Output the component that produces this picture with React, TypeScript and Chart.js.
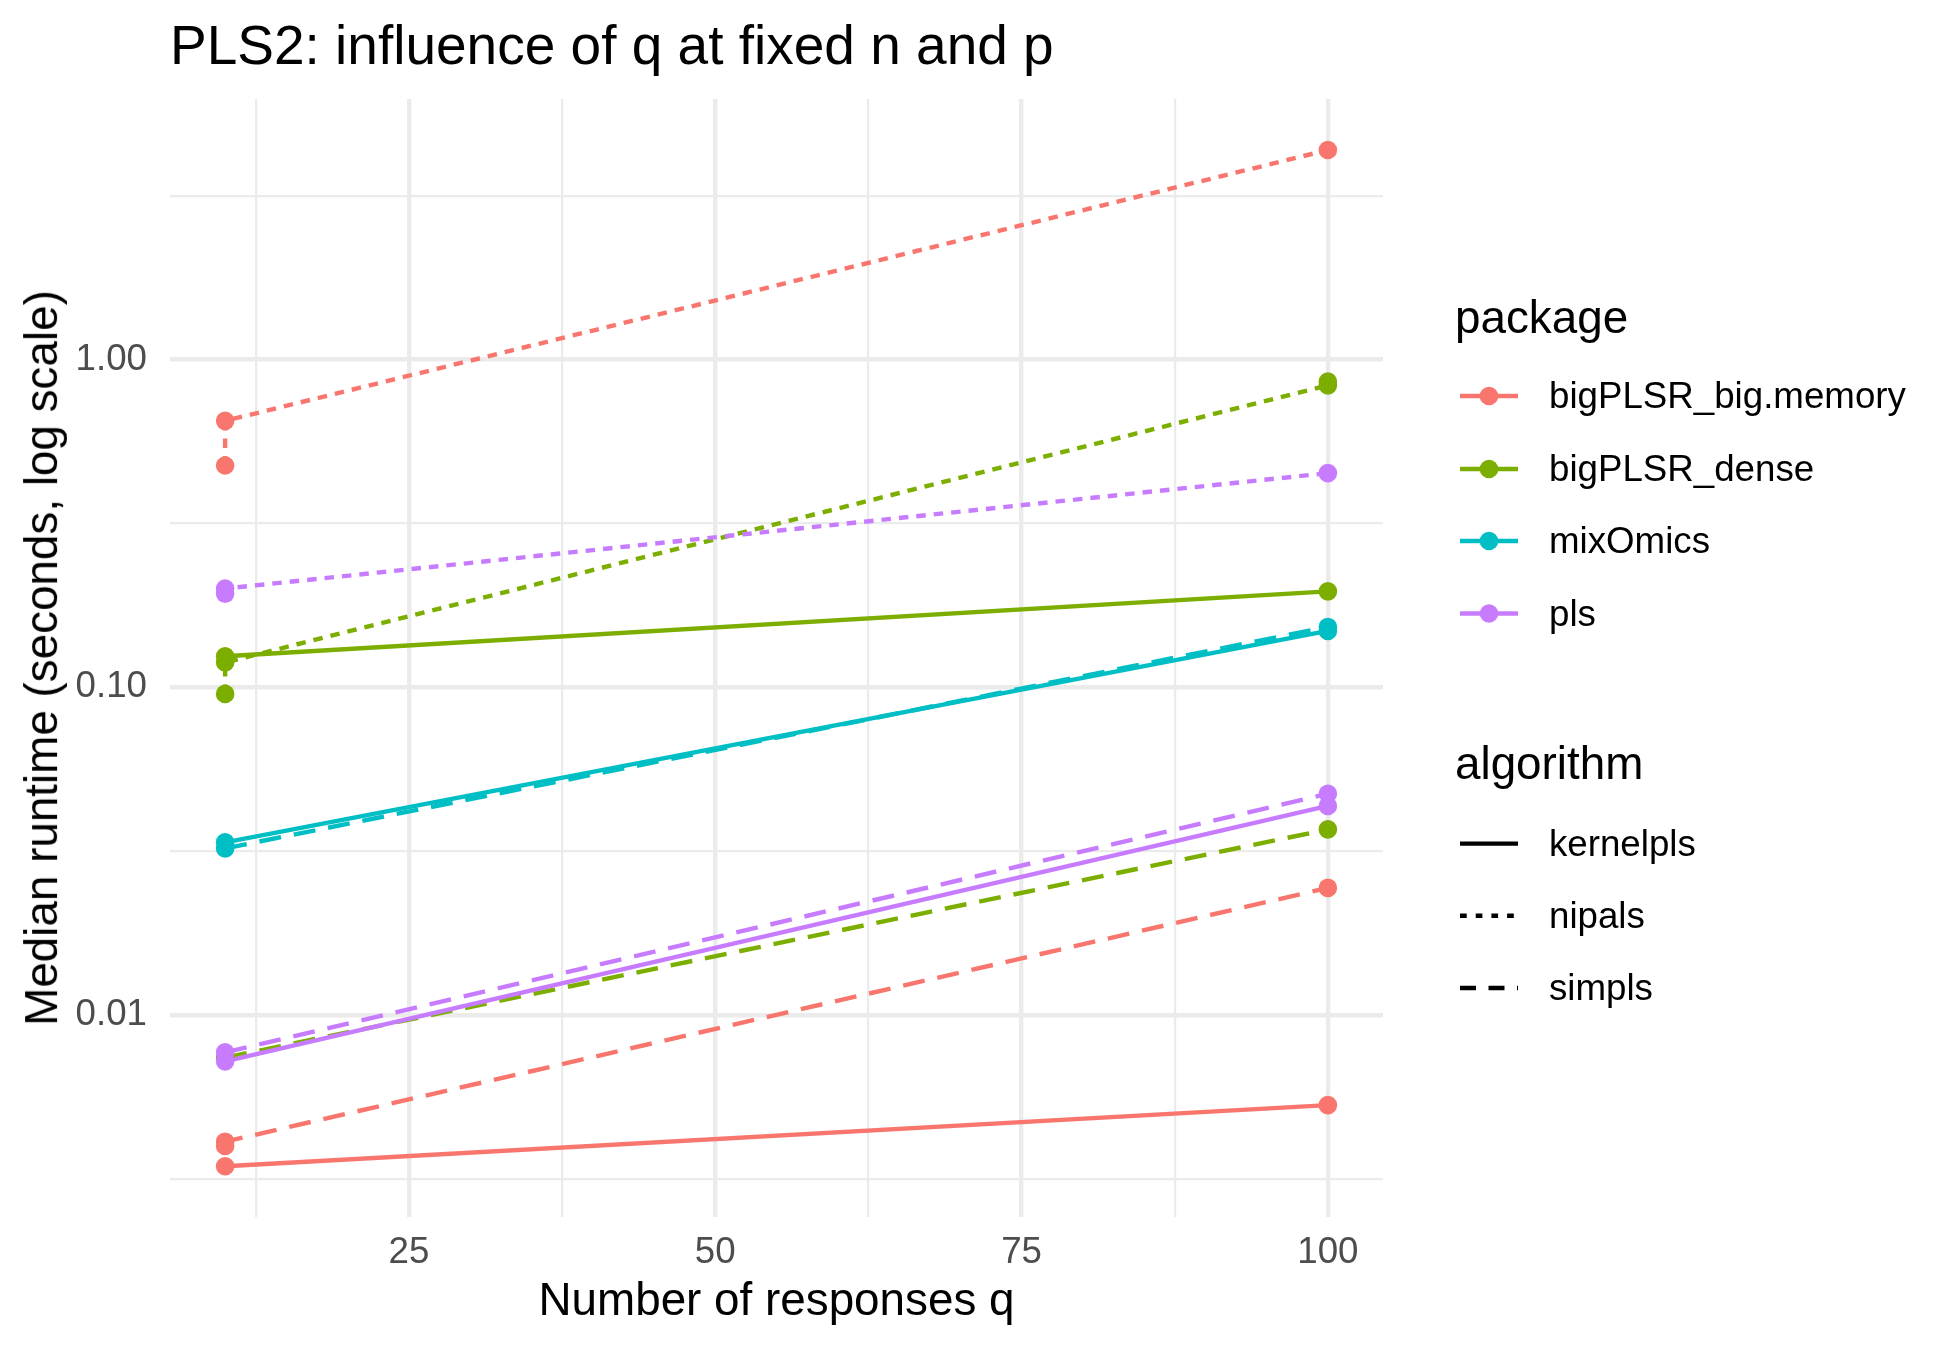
import React, { useEffect, useRef } from "react";
import { Chart, registerables } from "chart.js";

Chart.register(...registerables);

const FONT = "'Liberation Sans', Arial, Helvetica, sans-serif";

const packages = ["bigPLSR_big.memory", "bigPLSR_dense", "mixOmics", "pls"];
const packageColors = ["#F8766D", "#7CAE00", "#00BFC4", "#C77CFF"];
const algorithms = ["kernelpls", "nipals", "simpls"];

// Number of responses q and median runtimes (seconds) per package / algorithm
const bigMemoryKernelQ = [10, 100];
const bigMemoryKernelT = [0.00345, 0.0053];
const bigMemoryNipalsQ = [10, 10, 100];
const bigMemoryNipalsT = [0.475, 0.65, 4.36];
const bigMemorySimplsQ = [10, 10, 100];
const bigMemorySimplsT = [0.00398, 0.0041, 0.0244];

const denseKernelQ = [10, 100];
const denseKernelT = [0.1243, 0.196];
const denseNipalsQ = [10, 10, 100, 100];
const denseNipalsT = [0.0954, 0.119, 0.834, 0.857];
const denseSimplsQ = [10, 100];
const denseSimplsT = [0.0074, 0.0368];

const mixOmicsKernelQ = [10, 100];
const mixOmicsKernelT = [0.0336, 0.1485];
const mixOmicsSimplsQ = [10, 100];
const mixOmicsSimplsT = [0.0322, 0.1527];

const plsKernelQ = [10, 100];
const plsKernelT = [0.00721, 0.0434];
const plsNipalsQ = [10, 10, 100];
const plsNipalsT = [0.193, 0.2, 0.45];
const plsSimplsQ = [10, 100];
const plsSimplsT = [0.00768, 0.0473];

// axis ticks
const xMajorTicks = [25, 50, 75, 100];
const xMinorTicks = [12.5, 37.5, 62.5, 87.5];
const yMajorTicks = [0.01, 0.1, 1];
const yMajorLabels = ["0.01", "0.10", "1.00"];
const yMinorTicks = [0.00316, 0.0316, 0.316, 3.16];

const dashByAlgorithm: Record<string, number[]> = {
  kernelpls: [],
  nipals: [9.5, 8],
  simpls: [22, 13],
};

const series = [
  { pkg: 0, alg: "kernelpls", q: bigMemoryKernelQ, t: bigMemoryKernelT },
  { pkg: 0, alg: "nipals", q: bigMemoryNipalsQ, t: bigMemoryNipalsT },
  { pkg: 0, alg: "simpls", q: bigMemorySimplsQ, t: bigMemorySimplsT },
  { pkg: 1, alg: "kernelpls", q: denseKernelQ, t: denseKernelT },
  { pkg: 1, alg: "nipals", q: denseNipalsQ, t: denseNipalsT },
  { pkg: 1, alg: "simpls", q: denseSimplsQ, t: denseSimplsT },
  { pkg: 2, alg: "kernelpls", q: mixOmicsKernelQ, t: mixOmicsKernelT },
  { pkg: 2, alg: "simpls", q: mixOmicsSimplsQ, t: mixOmicsSimplsT },
  { pkg: 3, alg: "kernelpls", q: plsKernelQ, t: plsKernelT },
  { pkg: 3, alg: "nipals", q: plsNipalsQ, t: plsNipalsT },
  { pkg: 3, alg: "simpls", q: plsSimplsQ, t: plsSimplsT },
];

const near = (a: number, b: number) => Math.abs(Math.log10(a) - Math.log10(b)) < 1e-3;

export default function App() {
  const canvasRef = useRef<HTMLCanvasElement | null>(null);

  useEffect(() => {
    if (!canvasRef.current) return;
    Chart.defaults.font.family = FONT;

    const lineSets: any[] = series.map((s, i) => ({
      label: packages[s.pkg] + " " + s.alg,
      data: s.q.map((q, j) => ({ x: q, y: s.t[j] })),
      borderColor: packageColors[s.pkg],
      backgroundColor: packageColors[s.pkg],
      borderWidth: 4.4,
      borderDash: dashByAlgorithm[s.alg],
      borderCapStyle: "butt",
      pointRadius: 0,
      tension: 0,
      fill: false,
      order: 100 - i,
    }));

    const pointSets: any[] = packages.map((p, k) => ({
      label: p + " points",
      data: series
        .filter((s) => s.pkg === k)
        .flatMap((s) => s.q.map((q, j) => ({ x: q, y: s.t[j] }))),
      showLine: false,
      pointRadius: 9.3,
      pointHoverRadius: 9.3,
      pointBorderWidth: 0,
      pointBackgroundColor: packageColors[k],
      borderColor: packageColors[k],
      backgroundColor: packageColors[k],
      order: 10 - k,
    }));

    const chart = new Chart(canvasRef.current, {
      type: "line",
      data: { datasets: [...lineSets, ...pointSets] },
      options: {
        responsive: false,
        animation: false,
        devicePixelRatio: 1,
        events: [],
        layout: { padding: { left: 0, top: 99, right: 567, bottom: 0 } },
        plugins: {
          legend: { display: false },
          tooltip: { enabled: false },
          title: { display: false },
        },
        scales: {
          x: {
            type: "linear",
            min: 5.5,
            max: 104.5,
            afterBuildTicks: (scale: any) => {
              scale.ticks = [...xMinorTicks, ...xMajorTicks]
                .sort((a, b) => a - b)
                .map((v) => ({ value: v }));
            },
            afterFit: (scale: any) => {
              scale.height = 133;
            },
            border: { display: false },
            grid: {
              color: "#EBEBEB",
              lineWidth: (ctx: any) =>
                ctx.tick && xMajorTicks.includes(ctx.tick.value) ? 4.4 : 2.2,
              drawTicks: false,
            },
            ticks: {
              autoSkip: false,
              maxRotation: 0,
              padding: 14,
              color: "#4D4D4D",
              font: { size: 36.7, family: FONT },
              callback: (v: any) => (xMajorTicks.includes(Number(v)) ? String(v) : ""),
            },
          },
          y: {
            type: "logarithmic",
            min: 0.002415,
            max: 6.24,
            afterBuildTicks: (scale: any) => {
              scale.ticks = [...yMinorTicks, ...yMajorTicks]
                .sort((a, b) => a - b)
                .map((v) => ({ value: v }));
            },
            afterFit: (scale: any) => {
              scale.width = 170;
            },
            border: { display: false },
            grid: {
              color: "#EBEBEB",
              lineWidth: (ctx: any) =>
                ctx.tick && yMajorTicks.some((m) => near(m, ctx.tick.value)) ? 4.4 : 2.2,
              drawTicks: false,
            },
            ticks: {
              autoSkip: false,
              padding: 23,
              color: "#4D4D4D",
              font: { size: 36.7, family: FONT },
              callback: (v: any) => {
                const idx = yMajorTicks.findIndex((m) => near(m, Number(v)));
                return idx >= 0 ? yMajorLabels[idx] : "";
              },
            },
          },
        },
      } as any,
    });
    return () => chart.destroy();
  }, []);

  const legendText: React.CSSProperties = {
    position: "absolute",
    left: 1549,
    fontFamily: FONT,
    fontSize: 36.7,
    lineHeight: 1,
    color: "#000",
    whiteSpace: "nowrap",
  };
  const pkgRows = [396, 469, 541, 613.5];
  const algRows = [843.6, 915.7, 988];
  const algDash = ["", "6.7 9", "16 12.5"];

  return (
    <div
      style={{
        position: "absolute",
        left: 0,
        top: 0,
        width: 1950,
        height: 1350,
        background: "#fff",
        overflow: "hidden",
      }}
    >
      <canvas ref={canvasRef} width={1950} height={1350} style={{ display: "block" }} />
      <div
        style={{
          position: "absolute",
          left: 170,
          top: 18,
          fontFamily: FONT,
          fontSize: 55,
          lineHeight: 1,
          whiteSpace: "nowrap",
          color: "#000",
        }}
      >
        PLS2: influence of q at fixed n and p
      </div>
      <div
        style={{
          position: "absolute",
          left: 776.5,
          top: 1277,
          transform: "translateX(-50%)",
          fontFamily: FONT,
          fontSize: 45.8,
          lineHeight: 1,
          whiteSpace: "nowrap",
          color: "#000",
        }}
      >
        Number of responses q
      </div>
      <div
        style={{
          position: "absolute",
          left: 42,
          top: 658,
          transform: "translate(-50%, -50%) rotate(-90deg)",
          fontFamily: FONT,
          fontSize: 45.8,
          lineHeight: 1,
          whiteSpace: "nowrap",
          color: "#000",
        }}
      >
        Median runtime (seconds, log scale)
      </div>
      <div
        style={{
          position: "absolute",
          left: 1455,
          top: 295,
          fontFamily: FONT,
          fontSize: 45.8,
          lineHeight: 1,
          whiteSpace: "nowrap",
          color: "#000",
        }}
      >
        package
      </div>
      <div
        style={{
          position: "absolute",
          left: 1455,
          top: 741,
          fontFamily: FONT,
          fontSize: 45.8,
          lineHeight: 1,
          whiteSpace: "nowrap",
          color: "#000",
        }}
      >
        algorithm
      </div>
      <svg
        width={1950}
        height={1350}
        style={{ position: "absolute", left: 0, top: 0, pointerEvents: "none" }}
      >
        {packages.map((p, k) => (
          <g key={p}>
            <line
              x1={1460}
              x2={1518}
              y1={pkgRows[k]}
              y2={pkgRows[k]}
              stroke={packageColors[k]}
              strokeWidth={4.4}
            />
            <circle cx={1489} cy={pkgRows[k]} r={9.3} fill={packageColors[k]} />
          </g>
        ))}
        {algorithms.map((a, k) => (
          <line
            key={a}
            x1={1460}
            x2={1518}
            y1={algRows[k]}
            y2={algRows[k]}
            stroke="#000"
            strokeWidth={4.4}
            strokeDasharray={algDash[k] || undefined}
          />
        ))}
      </svg>
      {packages.map((p, k) => (
        <div key={p} style={{ ...legendText, top: pkgRows[k] - 18 }}>
          {p}
        </div>
      ))}
      {algorithms.map((a, k) => (
        <div key={a} style={{ ...legendText, top: algRows[k] - 18 }}>
          {a}
        </div>
      ))}
    </div>
  );
}
